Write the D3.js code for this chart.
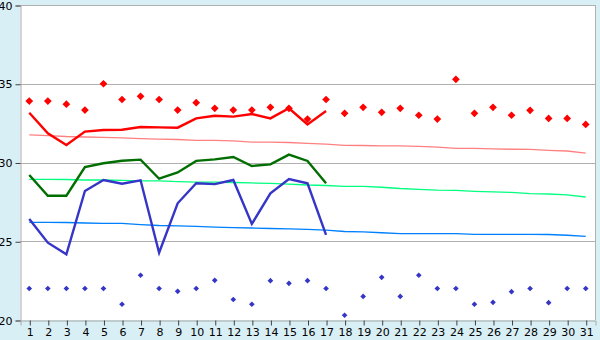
<html lang="en">
<head>
    <meta charset="UTF-8">
    <title>Chart</title>
    <script src="https://d3js.org/d3.v7.min.js"></script>
    <style>
        body { margin: 0; background-color: #d9eff6; }
        svg { display: block; font-family: "DejaVu Sans", Verdana, sans-serif; }
    </style>
</head>
<body>
    <script>
        const days = d3.range(1, 32);
        const yTicks = [20, 25, 30, 35, 40];

        // daily scatter values
        const highPoints = [33.9, 33.9, 33.7, 33.33, 35.0, 34.0, 34.2, 34.0, 33.33, 33.8,
            33.44, 33.33, 33.33, 33.5, 33.44, 32.76, 34.0, 33.12, 33.5, 33.19,
            33.44, 33.0, 32.76, 35.28, 33.12, 33.5, 33.0, 33.31, 32.8, 32.8, 32.42];
        const lowPoints = [22.0, 22.0, 22.0, 22.0, 22.0, 21.0, 22.84, 22.0, 21.82, 22.0,
            22.52, 21.3, 21.0, 22.5, 22.33, 22.5, 22.0, 20.3, 21.5, 22.71,
            21.5, 22.84, 22.0, 22.0, 21.0, 21.12, 21.8, 22.0, 21.1, 22.0, 22.0];

        // measured lines (days 1-17)
        const redLine = [33.16, 31.85, 31.11, 31.96, 32.06, 32.08, 32.25, 32.23, 32.21, 32.8,
            32.97, 32.91, 33.08, 32.8, 33.44, 32.42, 33.27];
        const greenLine = [29.21, 27.89, 27.89, 29.71, 29.95, 30.11, 30.18, 28.97, 29.37, 30.1,
            30.2, 30.35, 29.78, 29.88, 30.5, 30.1, 28.68];
        const blueLine = [26.41, 24.91, 24.17, 28.19, 28.89, 28.65, 28.87, 24.27, 27.41, 28.68,
            28.63, 28.89, 26.1, 28.04, 28.95, 28.68, 25.4];

        // reference lines (days 1-31)
        const pinkRef = [31.75, 31.71, 31.65, 31.62, 31.59, 31.56, 31.52, 31.49, 31.46, 31.41,
            31.4, 31.37, 31.3, 31.3, 31.27, 31.22, 31.17, 31.09, 31.08, 31.05,
            31.05, 31.02, 30.98, 30.9, 30.9, 30.86, 30.84, 30.83, 30.77, 30.73, 30.6];
        const greenRef = [28.93, 28.93, 28.92, 28.89, 28.89, 28.86, 28.83, 28.83, 28.79, 28.76,
            28.76, 28.73, 28.7, 28.67, 28.63, 28.57, 28.54, 28.49, 28.48, 28.43,
            28.35, 28.3, 28.25, 28.23, 28.17, 28.13, 28.1, 28.03, 28.0, 27.94, 27.81];
        const blueRef = [26.2, 26.2, 26.19, 26.16, 26.14, 26.13, 26.06, 26.0, 25.97, 25.94,
            25.9, 25.87, 25.84, 25.81, 25.78, 25.75, 25.71, 25.62, 25.59, 25.54,
            25.49, 25.48, 25.48, 25.48, 25.44, 25.44, 25.44, 25.44, 25.43, 25.38, 25.31];

        const w = 600, h = 340;
        const plotLeft = 20, plotRight = 595, plotTop = 5, plotBottom = 320;

        const xScale = d3.scaleLinear().domain([0.5, 31.5]).range([plotLeft, plotRight]);
        const yScale = d3.scaleLinear().domain([20, 40]).range([plotBottom, plotTop]);

        const svg = d3.select('body').append('svg')
            .attr('width', w)
            .attr('height', h);

        svg.append('rect')
            .attr('width', w).attr('height', h)
            .attr('fill', '#d9eff6');
        svg.append('rect')
            .attr('x', plotLeft).attr('y', plotTop)
            .attr('width', plotRight - plotLeft).attr('height', plotBottom - plotTop)
            .attr('fill', '#ffffff');

        // horizontal grid
        svg.append('g')
            .selectAll('line')
            .data(yTicks.slice(1))
            .enter()
            .append('line')
            .attr('x1', plotLeft).attr('x2', plotRight)
            .attr('y1', d => Math.round(yScale(d)) + 0.5)
            .attr('y2', d => Math.round(yScale(d)) + 0.5)
            .attr('stroke', '#b0b0b0');
        svg.append('line')
            .attr('x1', plotRight + 0.5).attr('x2', plotRight + 0.5)
            .attr('y1', plotTop).attr('y2', plotBottom)
            .attr('stroke', '#b0b0b0');

        const yAxis = d3.axisLeft(yScale).tickValues(yTicks).tickSize(5).tickPadding(3);
        const gy = svg.append('g')
            .attr('transform', `translate(${plotLeft + 0.5},0.5)`)
            .call(yAxis);
        const xAxis = d3.axisBottom(xScale).tickValues(days).tickSize(5).tickPadding(3);
        const gx = svg.append('g')
            .attr('transform', `translate(0.5,${plotBottom + 0.5})`)
            .call(xAxis);
        [gx, gy].forEach(g => {
            g.select('.domain').attr('stroke', '#a8a8a8');
            g.selectAll('.tick line').attr('stroke', '#404040');
            g.selectAll('text')
                .attr('fill', '#000')
                .style('font-size', '11px')
                .style('font-family', '"DejaVu Sans", Verdana, sans-serif');
        });

        const line = d3.line()
            .x((d, i) => xScale(i + 1))
            .y(d => yScale(d));

        const series = [
            { values: pinkRef, color: '#ff8080', width: 1.3 },
            { values: greenRef, color: '#00ff80', width: 1.3 },
            { values: blueRef, color: '#0080ff', width: 1.3 },
            { values: redLine, color: '#ff0000', width: 2.4 },
            { values: greenLine, color: '#006e00', width: 2.4 },
            { values: blueLine, color: '#3535c8', width: 2.4 }
        ];
        svg.append('g')
            .selectAll('path')
            .data(series)
            .enter()
            .append('path')
            .attr('d', d => line(d.values))
            .attr('fill', 'none')
            .attr('stroke', d => d.color)
            .attr('stroke-width', d => d.width);

        const diamondBig = d3.symbol(d3.symbolSquare, 30);
        const diamondSmall = d3.symbol(d3.symbolSquare, 16);

        svg.append('g')
            .selectAll('path')
            .data(highPoints)
            .enter()
            .append('path')
            .attr('d', diamondBig)
            .attr('transform', (d, i) => `translate(${xScale(i + 1)},${yScale(d)}) rotate(45)`)
            .attr('fill', '#ff0000');

        svg.append('g')
            .selectAll('path')
            .data(lowPoints)
            .enter()
            .append('path')
            .attr('d', diamondSmall)
            .attr('transform', (d, i) => `translate(${xScale(i + 1)},${yScale(d)}) rotate(45)`)
            .attr('fill', '#3535c8');
    </script>
</body>
</html>
